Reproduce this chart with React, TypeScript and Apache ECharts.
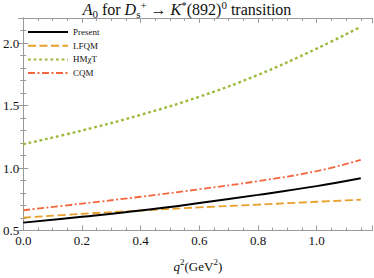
import React, { useEffect, useRef } from "react";
import * as echarts from "echarts";

const qValues = [0, 0.2, 0.4, 0.6, 0.8, 1.0, 1.15];
const presentValues = [0.563, 0.61, 0.66, 0.72, 0.785, 0.855, 0.918];
const lfqmValues = [0.602, 0.633, 0.66, 0.685, 0.707, 0.73, 0.746];
const hmxtValues = [1.19, 1.3, 1.425, 1.57, 1.745, 1.955, 2.13];
const cqmValues = [0.662, 0.715, 0.77, 0.83, 0.895, 0.975, 1.065];
const seriesNames = ["Present", "LFQM", "HMχT", "CQM"];

const FONT = "'Liberation Serif', 'DejaVu Serif', serif";
const FRAME = "#9a9a9a";

function pairs(vals: number[]) {
  return qValues.map((q, i) => [q, vals[i]]);
}

export default function App() {
  const ref = useRef<HTMLDivElement>(null);
  useEffect(() => {
    if (!ref.current) return;
    const chart = echarts.init(ref.current, undefined, { renderer: "svg" });
    const axisCommon = {
      axisLine: { show: true, lineStyle: { color: FRAME, width: 1 } },
      axisTick: { show: true, inside: true, length: 5, lineStyle: { color: FRAME } },
      splitLine: { show: false },
    };
    const base = { fontFamily: FONT, fontWeight: "normal", color: "#111" };
    const rich = {
      n: { ...base, fontSize: 16, lineHeight: 20 },
      i: { ...base, fontSize: 16, lineHeight: 20, fontStyle: "italic" },
      sub: { ...base, fontSize: 11, lineHeight: 12, verticalAlign: "bottom" },
      sup: { ...base, fontSize: 11, lineHeight: 12, verticalAlign: "top" },
    };
    const richName = {
      n: { ...base, fontSize: 13, lineHeight: 18 },
      i: { ...base, fontSize: 13, lineHeight: 18, fontStyle: "italic" },
      sup: { ...base, fontSize: 9, lineHeight: 11, verticalAlign: "top" },
    };
    chart.setOption({
      animation: false,
      title: {
        text: "{i|A}{sub|0}{n| for }{i|D}{sub|s}{sup|+}{n| → }{i|K}{sup|*}{n|(892)}{sup|0}{n| transition}",
        left: "center",
        top: -1,
        padding: 0,
        textStyle: { fontFamily: FONT, fontWeight: "normal", fontSize: 16, rich },
      },
      legend: {
        orient: "vertical",
        left: 27,
        top: 27,
        padding: 0,
        itemWidth: 40,
        itemHeight: 10,
        itemGap: 3.7,
        itemTextGap: 4,
        data: seriesNames,
        itemStyle: { opacity: 0 },
        textStyle: { fontFamily: FONT, fontSize: 9, color: "#111", lineHeight: 10 },
      },
      grid: { left: 21, right: 1.5, top: 18, bottom: 43, containLabel: false },
      xAxis: [
        {
          ...axisCommon,
          type: "value",
          position: "bottom",
          min: 0,
          max: 1.19,
          interval: 0.2,
          minorTick: { show: true, splitNumber: 4, length: 3, lineStyle: { color: FRAME } },
          axisLabel: {
            fontFamily: FONT,
            fontSize: 13,
            color: "#111",
            margin: 3,
            showMaxLabel: false,
            formatter: (v: number) => v.toFixed(1),
          },
          name: "{i|q}{sup|2}{n|(GeV}{sup|2}{n|)}",
          nameLocation: "middle",
          nameGap: 27,
          nameTextStyle: { fontFamily: FONT, fontSize: 13, rich: richName },
        },
        {
          ...axisCommon,
          type: "value",
          position: "top",
          min: 0,
          max: 1.19,
          interval: 0.2,
          minorTick: { show: true, splitNumber: 4, length: 3, lineStyle: { color: FRAME } },
          axisLabel: { show: false },
        },
      ],
      yAxis: [
        {
          ...axisCommon,
          type: "value",
          position: "left",
          min: 0.5,
          max: 2.2,
          interval: 0.5,
          minorTick: { show: true, splitNumber: 5, length: 3, lineStyle: { color: FRAME } },
          axisLabel: {
            fontFamily: FONT,
            fontSize: 13,
            color: "#111",
            margin: 4,
            showMaxLabel: false,
            formatter: (v: number) => v.toFixed(1),
          },
        },
        {
          ...axisCommon,
          type: "value",
          position: "right",
          min: 0.5,
          max: 2.2,
          interval: 0.5,
          minorTick: { show: true, splitNumber: 5, length: 3, lineStyle: { color: FRAME } },
          axisLabel: { show: false },
        },
      ],
      series: [
        {
          name: seriesNames[1],
          type: "line",
          data: pairs(lfqmValues),
          smooth: 0.4,
          symbol: "none",
          lineStyle: { color: "#e8a02c", width: 1.8, type: [8, 3.5] },
          itemStyle: { color: "#e8a02c" },
        },
        {
          name: seriesNames[2],
          type: "line",
          data: pairs(hmxtValues),
          smooth: 0.4,
          symbol: "none",
          lineStyle: { color: "#9cba3c", width: 2.4, type: [2.8, 2.8] },
          itemStyle: { color: "#9cba3c" },
        },
        {
          name: seriesNames[3],
          type: "line",
          data: pairs(cqmValues),
          smooth: 0.4,
          symbol: "none",
          lineStyle: { color: "#f2673f", width: 1.8, type: [7, 2.5, 2, 2.5] },
          itemStyle: { color: "#f2673f" },
        },
        {
          name: seriesNames[0],
          type: "line",
          data: pairs(presentValues),
          smooth: 0.4,
          symbol: "none",
          lineStyle: { color: "#000000", width: 2 },
          itemStyle: { color: "#000000" },
        },
      ],
    });
    return () => chart.dispose();
  }, []);
  return <div ref={ref} style={{ width: 374, height: 278, position: "absolute", left: 0, top: 0 }} />;
}
